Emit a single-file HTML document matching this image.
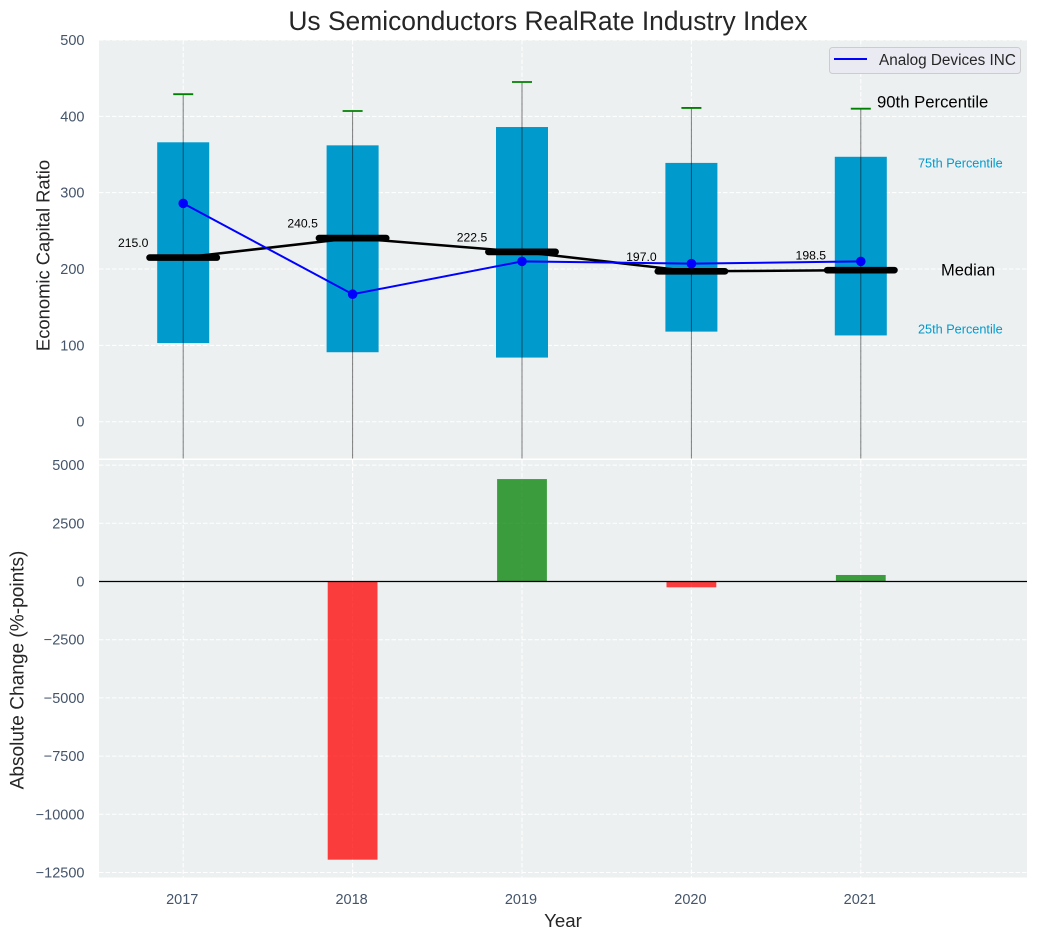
<!DOCTYPE html>
<html>
<head>
<meta charset="utf-8">
<style>
html,body{margin:0;padding:0;background:#fff;}
svg{display:block;font-family:"Liberation Sans",Arial,sans-serif;}
</style>
</head>
<body>
<svg id="chart" width="1038" height="940" viewBox="0 0 1038 940" xmlns="http://www.w3.org/2000/svg">
<text x="548" y="30" font-size="26.4" fill="#262626" text-anchor="middle">Us Semiconductors RealRate Industry Index</text>
<text transform="translate(49.5,255.5) rotate(-90)" font-size="18.4" fill="#262626" text-anchor="middle">Economic Capital Ratio</text>
<text transform="translate(23.5,670) rotate(-90)" font-size="19.1" fill="#262626" text-anchor="middle">Absolute Change (%-points)</text>
<text x="563" y="927" font-size="18.7" fill="#262626" text-anchor="middle">Year</text>
<g id="layer"></g>
</svg>
<script>
const years = [2017, 2018, 2019, 2020, 2021];
const p90 = [429, 407, 445, 411, 410];
const p75 = [366, 362, 386, 339, 347];
const median = [215, 240.5, 222.5, 197, 198.5];
const p25 = [103, 91, 84, 118, 113];
const p10 = [-60, -60, -60, -60, -60];
const company = [286, 167, 210, 207, 210];
const absChange = [0, -11950, 4400, -250, 280];
const topTicks = [0, 100, 200, 300, 400, 500];
const bottomTicks = [-12500, -10000, -7500, -5000, -2500, 0, 2500, 5000];

const NS = 'http://www.w3.org/2000/svg';
const layer = document.getElementById('layer');
const L = 99, R = 1027, T1 = 40, B1 = 458.5, T2 = 460, B2 = 877.5;
const x = v => 183.2 + (v - 2017) * 169.4;
const y1 = v => 421.7 - v * 0.7634;
const y2 = v => 581.5 - v * 0.02328;
const boxW = 52;
const barW = 49.8;

function make(tag, attrs, text) {
  const el = document.createElementNS(NS, tag);
  for (const k in attrs) el.setAttribute(k, attrs[k]);
  if (text !== undefined) el.textContent = text;
  layer.appendChild(el);
  return el;
}
function line(a, b, c, d, stroke, width, extra) {
  return make('line', Object.assign({x1: a, y1: b, x2: c, y2: d, stroke: stroke, 'stroke-width': width}, extra || {}));
}
function clipRect(id, top, bottom) {
  const cp = document.createElementNS(NS, 'clipPath');
  cp.setAttribute('id', id);
  const r = document.createElementNS(NS, 'rect');
  r.setAttribute('x', L);
  r.setAttribute('y', top);
  r.setAttribute('width', R - L);
  r.setAttribute('height', bottom - top);
  cp.appendChild(r);
  layer.appendChild(cp);
}
clipRect('clip-top', T1, B1);
clipRect('clip-bottom', T2, B2);

const topPanel = make('rect', {x: L, y: T1, width: R - L, height: B1 - T1, fill: '#ecf0f1'});


const bottomPanel = make('rect', {x: L, y: T2, width: R - L, height: B2 - T2, fill: '#ecf0f1'});



const dash = {'stroke-dasharray': '4.5 2'};
topTicks.forEach(t => {
  const g = line(L, y1(t), R, y1(t), '#fff', 1, dash);
  
  
  const lab = make('text', {x: 84.5, y: y1(t) + 5, 'font-size': 14.5, fill: '#44546a', 'text-anchor': 'end'}, String(t));
  
  
});
bottomTicks.forEach(t => {
  const g = line(L, y2(t), R, y2(t), '#fff', 1, dash);
  
  
  const lab = make('text', {x: 84.5, y: y2(t) + 5, 'font-size': 14.5, fill: '#44546a', 'text-anchor': 'end'}, String(t).replace('-', '\u2212'));
  
  
});
years.forEach(yr => {
  const a = line(x(yr), T1, x(yr), B1, '#fff', 1, dash);
  
  
  const b = line(x(yr), T2, x(yr), B2, '#fff', 1, dash);
  
  
  const lab = make('text', {x: x(yr) - 1, y: 904, 'font-size': 14.5, fill: '#44546a', 'text-anchor': 'middle'}, String(yr));
  
  
});

years.forEach((yr, i) => {
  const box = make('rect', {x: x(yr) - boxW / 2, y: y1(p75[i]), width: boxW, height: y1(p25[i]) - y1(p75[i]), fill: '#009acd', 'clip-path': 'url(#clip-top)'});
  
  
  const whisker = line(x(yr), y1(p90[i]), x(yr), y1(p10[i]), '#000', 1, {opacity: 0.5, 'clip-path': 'url(#clip-top)'});
  
  
  const cap = line(x(yr) - 10, y1(p90[i]), x(yr) + 10, y1(p90[i]), '#008000', 1.8);
  
  
});

const medianLine = make('polyline', {points: years.map((yr, i) => x(yr) + ',' + y1(median[i])).join(' '), fill: 'none', stroke: '#000', 'stroke-width': 2.5});


years.forEach((yr, i) => {
  const m = line(x(yr) - 33.6, y1(median[i]), x(yr) + 33.6, y1(median[i]), '#000', 6.7, {'stroke-linecap': 'round'});
  
  
  const lab = make('text', {x: x(yr) - 50, y: y1(median[i]) - 10.5, 'font-size': 12.2, fill: '#000', 'text-anchor': 'middle'}, median[i].toFixed(1));
  
  
});

const companyLine = make('polyline', {points: years.map((yr, i) => x(yr) + ',' + y1(company[i])).join(' '), fill: 'none', stroke: '#0000ff', 'stroke-width': 2});


years.forEach((yr, i) => {
  const p = make('circle', {cx: x(yr), cy: y1(company[i]), r: 4.8, fill: '#0000ff'});
  
  
});

years.forEach((yr, i) => {
  const v = absChange[i];
  if (v === 0) return;
  const top = Math.min(y2(0), y2(v));
  const bar = make('rect', {x: x(yr) - barW / 2, y: top, width: barW, height: Math.abs(y2(v) - y2(0)), fill: v < 0 ? '#ff0000' : '#008000', opacity: 0.75});
  
  
});
const zero = line(L, y2(0), R, y2(0), '#000', 1.2);



const legendBox = make('rect', {x: 829.5, y: 47.5, width: 191, height: 26, rx: 3, fill: '#eaeaf2', stroke: '#cccccc', 'stroke-width': 1});


const legendLine = line(834, 59, 867, 59, '#0000ff', 2);


const legendText = make('text', {x: 879, y: 65, 'font-size': 15.3, fill: '#262626'}, 'Analog Devices INC');



const a90 = make('text', {x: 877, y: 107.5, 'font-size': 16.7, fill: '#000'}, '90th Percentile');


const a75 = make('text', {x: 918, y: 167.5, 'font-size': 12.7, fill: '#009acd'}, '75th Percentile');


const aMed = make('text', {x: 941, y: 275.5, 'font-size': 16.5, fill: '#000'}, 'Median');


const a25 = make('text', {x: 918, y: 333.5, 'font-size': 12.7, fill: '#009acd'}, '25th Percentile');


</script>
</body>
</html>
